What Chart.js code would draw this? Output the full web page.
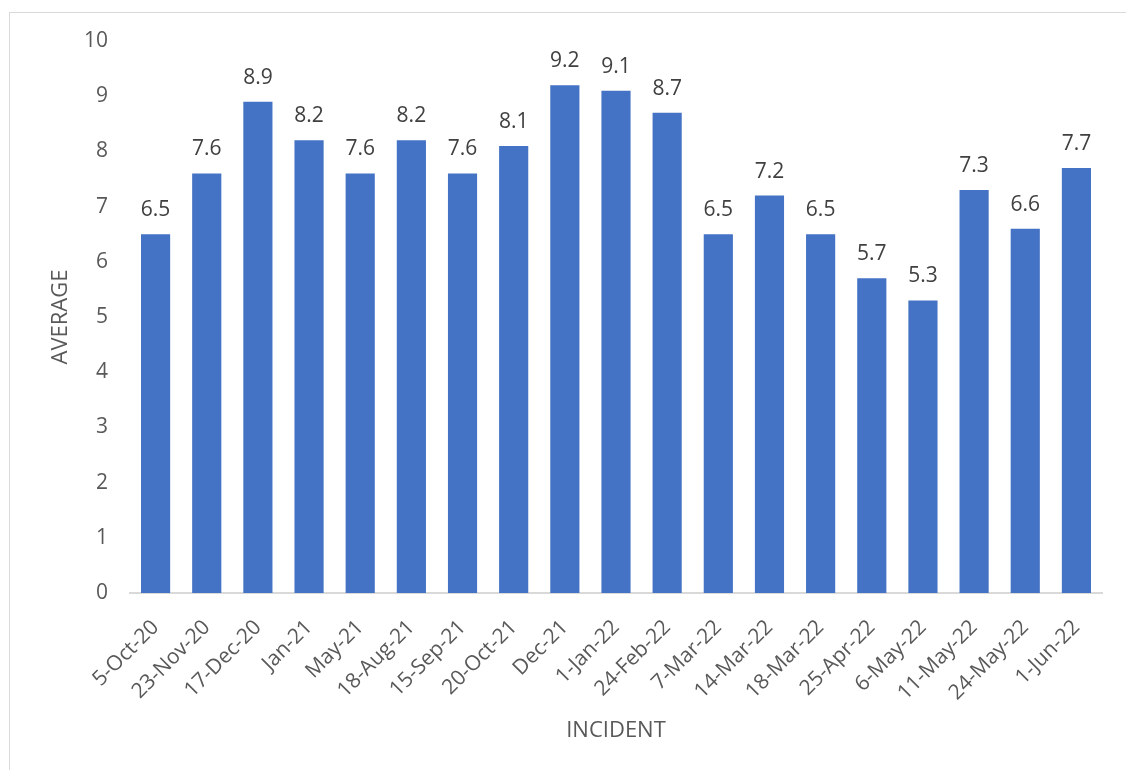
<!DOCTYPE html>
<html>
<head>
<meta charset="utf-8">
<script src="https://cdn.jsdelivr.net/npm/chart.js@4/dist/chart.umd.min.js"></script>
<style>
  html, body { margin: 0; padding: 0; background: #fff; overflow: hidden; }
  #frame {
    position: absolute; left: 9px; top: 12px;
    width: 1116px; height: 757px;
    border-left: 1px solid #d9d9d9; border-top: 1px solid #d9d9d9;
  }
  canvas { display: block; }
</style>
</head>
<body>
<div id="frame"><canvas id="avgChart" width="1116" height="757"></canvas></div>
<script>
'use strict';

// ── Data ──────────────────────────────────────────────────────────
const incidents = [
  '5-Oct-20', '23-Nov-20', '17-Dec-20', 'Jan-21', 'May-21', '18-Aug-21',
  '15-Sep-21', '20-Oct-21', 'Dec-21', '1-Jan-22', '24-Feb-22', '7-Mar-22',
  '14-Mar-22', '18-Mar-22', '25-Apr-22', '6-May-22', '11-May-22', '24-May-22',
  '1-Jun-22',
];
const averages = [
  6.5, 7.6, 8.9, 8.2, 7.6, 8.2, 7.6, 8.1, 9.2, 9.1, 8.7,
  6.5, 7.2, 6.5, 5.7, 5.3, 7.3, 6.6, 7.7,
];
const yTicks = [0, 1, 2, 3, 4, 5, 6, 7, 8, 9, 10];

// ── Style ─────────────────────────────────────────────────────────
const FONT      = '"Open Sans", sans-serif';
const BAR_BLUE  = '#4472c4';
const AXIS_GREY = '#d9d9d9';
const TICK_TEXT = '#595959';
const LABEL_TXT = '#404040';

// Value labels above each bar (no datalabels plugin available)
const barValueLabels = {
  id: 'barValueLabels',
  afterDatasetsDraw(chart) {
    const { ctx } = chart;
    const meta = chart.getDatasetMeta(0);
    ctx.save();
    ctx.font = `21px ${FONT}`;
    ctx.fillStyle = LABEL_TXT;
    ctx.textAlign = 'center';
    ctx.textBaseline = 'alphabetic';
    meta.data.forEach((bar, i) => {
      ctx.fillText(averages[i].toFixed(1), bar.x, bar.y - 18);
    });
    ctx.restore();
  },
};

new Chart(document.getElementById('avgChart'), {
  type: 'bar',
  data: {
    labels: incidents,
    datasets: [{
      data: averages,
      backgroundColor: BAR_BLUE,
      borderWidth: 0,
      categoryPercentage: 1,
      barPercentage: 0.57,
    }],
  },
  options: {
    responsive: false,
    animation: false,
    layout: { padding: { top: 28, right: 24, left: 0, bottom: 0 } },
    plugins: {
      legend:  { display: false },
      tooltip: { enabled: false },
    },
    scales: {
      x: {
        grid:   { display: false, drawTicks: false },
        border: { display: true, color: AXIS_GREY, width: 2 },
        ticks: {
          color: TICK_TEXT,
          font: { family: FONT, size: 21 },
          maxRotation: 45, minRotation: 45,
          padding: 22,
          autoSkip: false,
        },
        title: {
          display: true, text: 'INCIDENT', color: TICK_TEXT,
          font: { family: FONT, size: 22 },
          padding: { top: 0, bottom: 26 },
        },
        afterFit: s => { s.height = 177; },
      },
      y: {
        min: 0, max: 10,
        grid:   { display: false, drawTicks: false },
        border: { display: false },
        afterBuildTicks: s => { s.ticks = yTicks.map(v => ({ value: v })); },
        ticks: {
          color: TICK_TEXT,
          font: { family: FONT, size: 21 },
          padding: 22,
        },
        title: {
          display: true, text: 'AVERAGE', color: TICK_TEXT,
          font: { family: FONT, size: 22 },
          padding: { top: 38, bottom: 0 },
        },
        // fixed width; drop the tick-padding that would push the top down
        afterFit: s => { s.width = 120; s.paddingTop = 0; s.paddingBottom = 0; },
      },
    },
  },
  plugins: [barValueLabels],
});
</script>
</body>
</html>
